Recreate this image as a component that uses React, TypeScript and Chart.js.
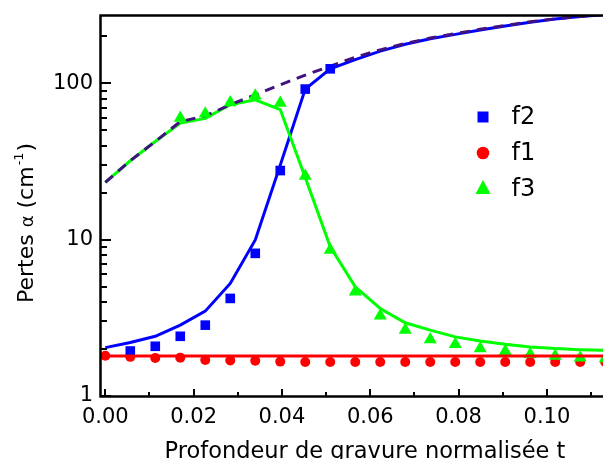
import React, { useEffect, useRef } from 'react';
import { Chart, registerables } from 'chart.js';

Chart.register(...registerables);

// Normalised etch depth grid (x values)
const tGrid = [0, 0.00566, 0.01132, 0.01698, 0.02264, 0.0283, 0.03396, 0.03962, 0.04528, 0.05094,
  0.0566, 0.06226, 0.06792, 0.07358, 0.07924, 0.0849, 0.09056, 0.09622, 0.10188, 0.10754, 0.1132];

// f1 (red circles) measured values, and flat fit line
const f1Points = [1.81, 1.78, 1.75, 1.76, 1.70, 1.69, 1.68, 1.66, 1.65, 1.65, 1.65, 1.65, 1.65, 1.65,
  1.65, 1.65, 1.65, 1.65, 1.65, 1.65, 1.65];
const f1FitT = [0, 0.1132];
const f1Fit = [1.8, 1.8];

// f2 (blue squares) measured values and fit line
const f2Points = [null, 1.94, 2.08, 2.41, 2.84, 4.21, 8.18, 27.7, 92, 124, null, null, null, null,
  null, null, null, null, null, null, null];
const f2Fit = [2.04, 2.2, 2.41, 2.84, 3.49, 5.25, 9.96, 30, 92, 124, 142, 161, 178, 193, 206, 220,
  233, 246, 258, 268, 276];

// f3 (green triangles) measured values and fit line
const f3Points = [null, null, null, 60, 64, 75.5, 83.4, 74.9, 25.6, 8.6, 4.64, 3.26, 2.64, 2.3, 2.14,
  2.01, 1.93, 1.85, 1.8, 1.76, 1.74];
const f3Fit = [23.3, 32, 42.5, 55.7, 59.7, 73, 78.6, 68, 25, 9.0, 5.0, 3.63, 2.94, 2.64, 2.39, 2.25,
  2.14, 2.06, 2.01, 1.98, 1.96];

// dashed reference curve
const dashedCurve = [23.3, 32, 42.5, 57, 62, 73, 84.6, 98, 113, 129, 147, 164, 180, 195, 208, 222,
  235, 248, 259, 268, 277];

const xMajorTicks = [0, 0.02, 0.04, 0.06, 0.08, 0.1];
const xMinorTicks = [0.01, 0.03, 0.05, 0.07, 0.09, 0.11];
const yMajorTicks = [1, 10, 100];
const yMinorTicks = [2, 3, 4, 5, 6, 7, 8, 9, 20, 30, 40, 50, 60, 70, 80, 90, 200];

const legendItems = [
  { label: 'f2', shape: 'rect', color: '#0000ff' },
  { label: 'f1', shape: 'circle', color: '#ff0000' },
  { label: 'f3', shape: 'triangle', color: '#00ff00' },
];

const FONT = '"DejaVu Sans", sans-serif';

const pts = (vals: (number | null)[]) =>
  vals.map((v, i) => ({ x: tGrid[i], y: v as number })).filter((p) => p.y !== null);

const zeroPad = (scale: any) => {
  scale.paddingLeft = 0;
  scale.paddingRight = 0;
  scale.paddingTop = 0;
  scale.paddingBottom = 0;
};

const decorPlugin = {
  id: 'decor',
  afterDatasetsDraw(chart: any) {
    const ctx = chart.ctx;
    const { left, right, top, bottom } = chart.chartArea;
    const xs = chart.scales.x;
    const ys = chart.scales.y;
    ctx.save();
    ctx.strokeStyle = '#000';
    ctx.lineWidth = 2.5;
    ctx.beginPath();
    ctx.moveTo(left - 1.5, top - 0.5);
    ctx.lineTo(right, top - 0.5);
    ctx.moveTo(left - 0.5, top - 1.5);
    ctx.lineTo(left - 0.5, bottom + 1.5);
    ctx.moveTo(left - 1.5, bottom + 0.5);
    ctx.lineTo(right, bottom + 0.5);
    ctx.stroke();
    ctx.lineWidth = 2;
    ctx.beginPath();
    xMajorTicks.forEach((v) => {
      const px = Math.round(xs.getPixelForValue(v));
      ctx.moveTo(px, bottom);
      ctx.lineTo(px, bottom - 7);
    });
    xMinorTicks.forEach((v) => {
      const px = Math.round(xs.getPixelForValue(v));
      ctx.moveTo(px, bottom);
      ctx.lineTo(px, bottom - 4);
    });
    yMajorTicks.forEach((v) => {
      const py = Math.round(ys.getPixelForValue(v));
      ctx.moveTo(left, py);
      ctx.lineTo(left + 10, py);
    });
    yMinorTicks.forEach((v) => {
      const py = Math.round(ys.getPixelForValue(v));
      ctx.moveTo(left, py);
      ctx.lineTo(left + 6, py);
    });
    ctx.stroke();
    ctx.restore();
  },
  afterDraw(chart: any) {
    const ctx = chart.ctx;
    ctx.save();
    ctx.fillStyle = '#000';
    // x title
    ctx.font = `22.5px ${FONT}`;
    ctx.textAlign = 'center';
    ctx.textBaseline = 'alphabetic';
    ctx.fillText('Profondeur de gravure normalisée t', 365, 458);

    // y title (rotated)
    ctx.save();
    ctx.translate(33, 303);
    ctx.rotate(-Math.PI / 2);
    ctx.textAlign = 'left';
    let x = 0;
    ctx.font = `22px ${FONT}`;
    ctx.fillText('Pertes ', x, 0);
    x += ctx.measureText('Pertes ').width;
    ctx.font = `18px ${FONT}`;
    ctx.fillText('α', x, 0);
    x += ctx.measureText('α').width;
    ctx.font = `22px ${FONT}`;
    ctx.fillText(' (cm', x, 0);
    x += ctx.measureText(' (cm').width;
    ctx.font = `13px ${FONT}`;
    ctx.fillText('-1', x + 1, -10);
    x += ctx.measureText('-1').width + 2;
    ctx.font = `22px ${FONT}`;
    ctx.fillText(')', x, 0);
    ctx.restore();

    // legend
    const mx = 483;
    const baseY = [117, 153, 189];
    const textY = [124, 160, 196];
    legendItems.forEach((item, i) => {
      const cy = baseY[i];
      ctx.fillStyle = item.color;
      ctx.beginPath();
      if (item.shape === 'rect') {
        ctx.rect(mx - 5.5, cy - 5.5, 11, 11);
      } else if (item.shape === 'circle') {
        ctx.arc(mx, cy, 6.3, 0, Math.PI * 2);
      } else {
        ctx.moveTo(mx, cy - 9);
        ctx.lineTo(mx + 7.5, cy + 5);
        ctx.lineTo(mx - 7.5, cy + 5);
        ctx.closePath();
      }
      ctx.fill();
      ctx.fillStyle = '#000';
      ctx.font = `24px ${FONT}`;
      ctx.textAlign = 'left';
      ctx.fillText(item.label, 511.5, textY[i]);
    });
    ctx.restore();
  },
};

export default function App() {
  const ref = useRef<HTMLCanvasElement | null>(null);

  useEffect(() => {
    if (!ref.current) return;
    const lineDs = (data: any[], color: string, extra: any = {}) => ({
      data,
      borderColor: color,
      backgroundColor: color,
      borderWidth: 3,
      pointRadius: 0,
      showLine: true,
      fill: false,
      tension: 0,
      ...extra,
    });
    const pointDs = (data: any[], color: string, style: string, radius: number) => ({
      data,
      showLine: false,
      pointStyle: style,
      pointRadius: radius,
      pointBorderWidth: 0,
      pointBackgroundColor: color,
      pointBorderColor: color,
      backgroundColor: color,
      borderColor: color,
    });

    const chart = new Chart(ref.current, {
      type: 'scatter',
      data: {
        datasets: [
          lineDs(f1FitT.map((t, i) => ({ x: t, y: f1Fit[i] })), '#ff0000'),
          pointDs(pts(f3Points), '#00ff00', 'triangle', 7.5),
          pointDs(pts(f2Points), '#0000ff', 'rect', 6.8),
          pointDs(pts(f1Points), '#ff0000', 'circle', 5),
          lineDs(pts(dashedCurve), '#42117f', { borderDash: [10, 7] }),
          lineDs(pts(f3Fit), '#00ff00'),
          lineDs(pts(f2Fit), '#0000ff'),
        ] as any,
      },
      options: {
        animation: false,
        responsive: false,
        devicePixelRatio: 1,
        layout: { autoPadding: false, padding: { top: 16, right: 0, left: 0, bottom: 0 } },
        plugins: { legend: { display: false }, tooltip: { enabled: false }, title: { display: false } },
        scales: {
          x: {
            type: 'linear',
            min: -0.00097,
            max: 0.1127,
            grid: { display: false, drawTicks: false },
            border: { display: false },
            afterBuildTicks: (scale: any) => {
              scale.ticks = xMajorTicks.map((v) => ({ value: v }));
            },
            afterFit: (scale: any) => {
              scale.height = 63;
              zeroPad(scale);
            },
            ticks: {
              autoSkip: false,
              maxRotation: 0,
              padding: 9,
              color: '#000',
              font: { family: FONT, size: 21 },
              callback: (v: any) => Number(v).toFixed(2),
            },
          },
          y: {
            type: 'logarithmic',
            min: 1,
            max: 270,
            grid: { display: false, drawTicks: false },
            border: { display: false },
            afterBuildTicks: (scale: any) => {
              scale.ticks = yMajorTicks.map((v) => ({ value: v }));
            },
            afterFit: (scale: any) => {
              scale.width = 101;
              zeroPad(scale);
            },
            ticks: {
              autoSkip: false,
              padding: 8,
              color: '#000',
              font: { family: FONT, size: 21 },
              callback: (v: any) => String(v),
            },
          },
        },
      } as any,
      plugins: [decorPlugin],
    });
    return () => chart.destroy();
  }, []);

  return (
    <div style={{ position: 'fixed', left: 0, top: 0, width: 603, height: 459, background: '#fff' }}>
      <canvas ref={ref} width={603} height={459} style={{ display: 'block' }} />
    </div>
  );
}
